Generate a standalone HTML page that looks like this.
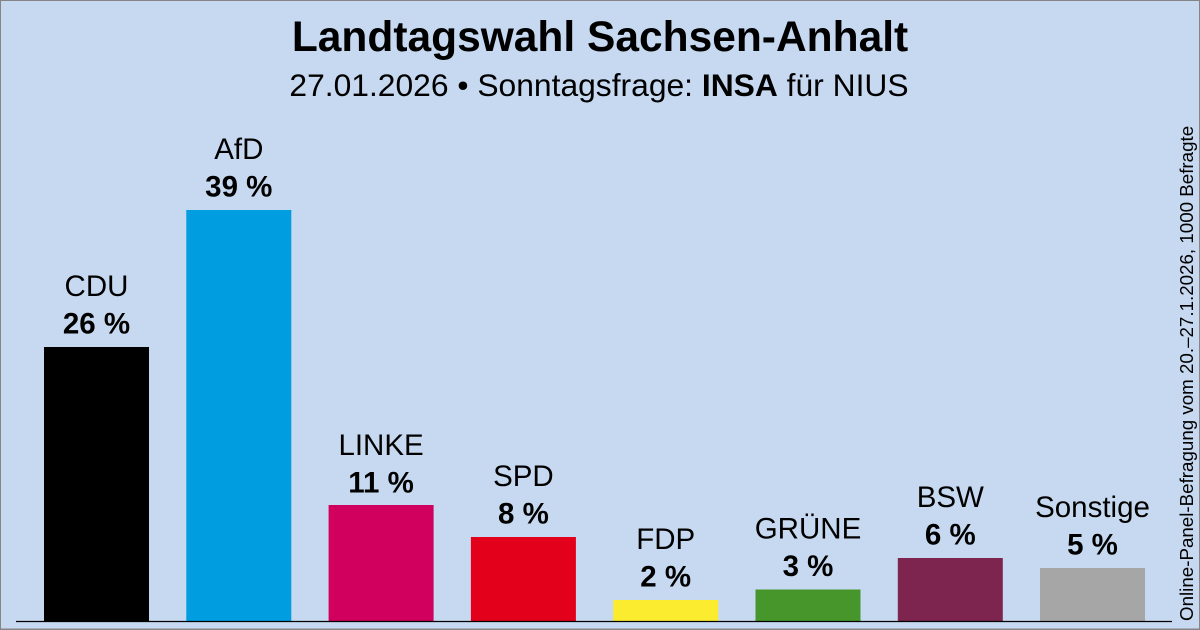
<!DOCTYPE html>
<html>
<head>
<meta charset="utf-8">
<style>
  html, body { margin: 0; padding: 0; }
  body { width: 1200px; height: 630px; overflow: hidden; background: #c6d9f0; }
  svg { display: block; }
  text { font-family: "Liberation Sans", Arial, sans-serif; fill: #000; }
</style>
</head>
<body>
<svg width="1200" height="630" viewBox="0 0 1200 630" xmlns="http://www.w3.org/2000/svg">
  <rect x="0" y="0" width="1200" height="630" fill="#c6d9f0"/>
  <rect x="0.5" y="0.5" width="1199" height="628.5" fill="none" stroke="#858585" stroke-width="1"/>
  <line x1="0" y1="629.5" x2="1200" y2="629.5" stroke="#858585" stroke-width="1"/>

  <!-- Title -->
  <text x="600" y="51" font-size="42.5" font-weight="bold" text-anchor="middle">Landtagswahl Sachsen-Anhalt</text>
  <text x="599" y="96" font-size="31.8" text-anchor="middle">27.01.2026 • Sonntagsfrage: <tspan font-weight="bold">INSA</tspan> für NIUS</text>

  <!-- Bars -->
  <rect x="44" y="347" width="105" height="274" fill="#000000"/>
  <rect x="186.3" y="210" width="105" height="411" fill="#009ee0"/>
  <rect x="328.6" y="505" width="105" height="116" fill="#d1005e"/>
  <rect x="470.9" y="537" width="105" height="84" fill="#e2001a"/>
  <rect x="613.2" y="600" width="105" height="21" fill="#fcec30"/>
  <rect x="755.5" y="589.5" width="105" height="31.5" fill="#46962b"/>
  <rect x="897.8" y="558" width="105" height="63" fill="#7d254f"/>
  <rect x="1040" y="568" width="105" height="53" fill="#a6a6a6"/>

  <!-- Axis -->
  <line x1="16" y1="621.5" x2="1172" y2="621.5" stroke="#000" stroke-width="1.3"/>

  <!-- Labels -->
  <g font-size="29.5" text-anchor="middle">
    <text x="96.5" y="296">CDU</text>
    <text x="96.5" y="333.5" font-weight="bold">26 %</text>

    <text x="238.8" y="159">AfD</text>
    <text x="238.8" y="196.5" font-weight="bold">39 %</text>

    <text x="381.1" y="455">LINKE</text>
    <text x="381.1" y="492.5" font-weight="bold">11 %</text>

    <text x="523.4" y="486">SPD</text>
    <text x="523.4" y="523.5" font-weight="bold">8 %</text>

    <text x="665.7" y="549">FDP</text>
    <text x="665.7" y="586.5" font-weight="bold">2 %</text>

    <text x="808" y="538.5">GRÜNE</text>
    <text x="808" y="576" font-weight="bold">3 %</text>

    <text x="950.3" y="507">BSW</text>
    <text x="950.3" y="544.5" font-weight="bold">6 %</text>

    <text x="1092.5" y="517">Sonstige</text>
    <text x="1092.5" y="554.5" font-weight="bold">5 %</text>
  </g>

  <!-- Side note -->
  <text transform="translate(1193,621) rotate(-90)" font-size="18.75" text-anchor="start">Online-Panel-Befragung vom 20.–27.1.2026, 1000 Befragte</text>
</svg>
</body>
</html>
